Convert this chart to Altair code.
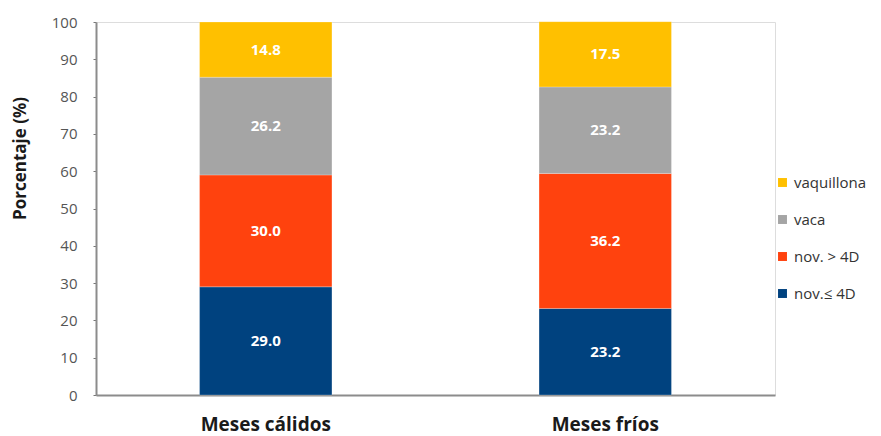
import altair as alt
import pandas as pd

# Calving categories, bottom to top of each stacked bar
categorias = ["nov.≤ 4D", "nov. > 4D", "vaca", "vaquillona"]
periodos = ["Meses cálidos", "Meses fríos"]
calidos = [29.0, 30.0, 26.2, 14.8]
frios = [23.2, 36.2, 23.2, 17.5]
colores = ["#00427F", "#FF420E", "#A5A5A5", "#FFC000"]
ticks_y = list(range(0, 101, 10))

rows = []
for periodo, valores in zip(periodos, [calidos, frios]):
    for i, (cat, v) in enumerate(zip(categorias, valores)):
        rows.append({"periodo": periodo, "categoria": cat, "valor": v, "orden": i})
df = pd.DataFrame(rows)

legend_order = list(reversed(categorias))

x_axis = alt.Axis(
    title=None,
    labelAngle=0,
    labelFont="Open Sans",
    labelFontWeight="bold",
    labelFontSize=19,
    labelColor="#1a1a1a",
    labelPadding=20,
    ticks=False,
    domainColor="#8c8c8c",
    domainWidth=2,
)
y_axis = alt.Axis(
    values=ticks_y,
    labelOverlap=False,
    title="Porcentaje (%)",
    titleFont="Open Sans",
    titleFontWeight="bold",
    titleFontSize=17,
    titleColor="#1a1a1a",
    titleAngle=270,
    titleAlign="center",
    titleBaseline="middle",
    titleX=-76,
    titleY=136,
    labelFont="Open Sans",
    labelFontSize=15,
    labelColor="#555555",
    labelPadding=16,
    tickSize=3,
    tickColor="#777777",
    domainColor="#8c8c8c",
    domainWidth=2,
    grid=False,
)
x_scale = alt.Scale(paddingInner=0.61, paddingOuter=0.305)
y_scale = alt.Scale(domain=[0, 100], nice=False)

base = alt.Chart(df)

bars = base.mark_bar(stroke="#FFFFFF", strokeWidth=0.4, strokeOpacity=0.6).encode(
    x=alt.X("periodo:N", sort=periodos, scale=x_scale, axis=x_axis),
    y=alt.Y("valor:Q", stack="zero", scale=y_scale, axis=y_axis),
    color=alt.Color(
        "categoria:N",
        scale=alt.Scale(domain=categorias, range=colores),
        sort=legend_order,
        legend=alt.Legend(
            title=None,
            orient="none",
            legendX=679,
            legendY=153,
            symbolType="square",
            symbolSize=80,
            symbolStrokeWidth=0,
            labelFont="Open Sans",
            labelFontSize=15,
            labelColor="#333333",
            labelOffset=4,
            rowPadding=21,
            values=legend_order,
        ),
    ),
    order=alt.Order("orden:Q", sort="ascending"),
)

labels = base.transform_stack(
    stack="valor",
    groupby=["periodo"],
    sort=[alt.SortField("orden", order="ascending")],
    as_=["y0", "y1"],
).transform_calculate(
    mid="(datum.y0 + datum.y1) / 2"
).mark_text(
    color="white", font="Open Sans", fontWeight="bold", fontSize=15, baseline="middle"
).encode(
    x=alt.X("periodo:N", sort=periodos, scale=x_scale, axis=x_axis),
    y=alt.Y("mid:Q", scale=y_scale, axis=y_axis),
    text=alt.Text("valor:Q", format=".1f"),
)

chart = (
    alt.layer(bars, labels)
    .properties(
        width=679,
        height=373,
        autosize=alt.AutoSizeParams(type="none"),
        padding={"left": 96, "top": 22, "right": 106, "bottom": 41},
    )
    .configure_view(strokeWidth=0)
    .configure(background="white")
)

chart.save("out.html", embed_options={"renderer": "svg", "actions": False})
